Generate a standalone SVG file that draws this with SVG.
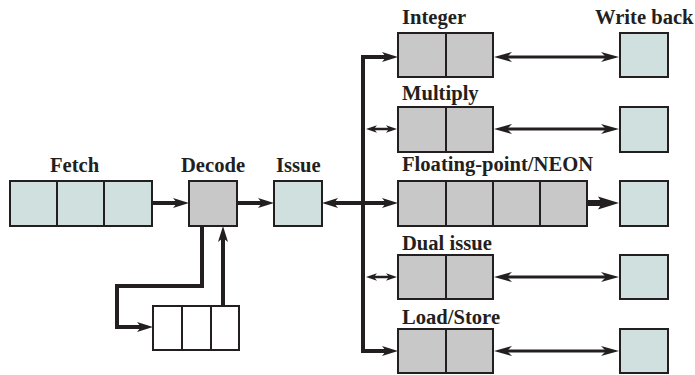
<svg xmlns="http://www.w3.org/2000/svg" width="695" height="375" viewBox="0 0 695 375">
<style>
.t{font-family:"Liberation Serif","Times New Roman",serif;font-weight:bold;font-size:20.6px;fill:#231f20}
.teal{fill:#cfe0de;stroke:#231f20;stroke-width:2}
.gray{fill:#c8c8c8;stroke:#231f20;stroke-width:2}
.white{fill:#ffffff;stroke:#231f20;stroke-width:2}
.div{stroke:#231f20;stroke-width:2}
.c{fill:none;stroke:#231f20;stroke-linejoin:miter}
</style>
<defs>
<marker id="a" viewBox="0 -6 18 12" refX="4" refY="0" markerWidth="18" markerHeight="12" markerUnits="userSpaceOnUse" orient="auto-start-reverse"><path d="M0,-5 L16,0 L0,5 L4,0 z" fill="#231f20"/></marker>
<marker id="m" viewBox="0 -6 20 12" refX="5" refY="0" markerWidth="20" markerHeight="12" markerUnits="userSpaceOnUse" orient="auto-start-reverse"><path d="M0,-5 L18,0 L0,5 L5,0 z" fill="#231f20"/></marker>
<marker id="s" viewBox="0 -5 12 10" refX="3" refY="0" markerWidth="12" markerHeight="10" markerUnits="userSpaceOnUse" orient="auto-start-reverse"><path d="M0,-3.8 L11,0 L0,3.8 L3,0 z" fill="#231f20"/></marker>
<marker id="b" viewBox="0 -7 24 14" refX="4" refY="0" markerWidth="24" markerHeight="14" markerUnits="userSpaceOnUse" orient="auto-start-reverse"><path d="M0,-6.5 L21,0 L0,6.5 L4,0 z" fill="#231f20"/></marker>
</defs>

<g id="connectors">
<path class="c" stroke-width="4" d="M152,203 H177" marker-end="url(#a)"/>
<path class="c" stroke-width="4" d="M237,203 H262" marker-end="url(#a)"/>
<path class="c" stroke-width="4" d="M334,203 H386" marker-start="url(#a)" marker-end="url(#a)"/>
<path class="c" stroke-width="4" d="M386,57 H363 V351 H386" marker-start="url(#a)" marker-end="url(#a)"/>
<path class="c" stroke-width="2.5" d="M374,129 H389" marker-start="url(#s)" marker-end="url(#s)"/>
<path class="c" stroke-width="2.5" d="M374,277 H389" marker-start="url(#s)" marker-end="url(#s)"/>
<path class="c" stroke-width="3.2" d="M507,57 H606" marker-start="url(#m)" marker-end="url(#m)"/>
<path class="c" stroke-width="3.2" d="M507,129 H606" marker-start="url(#m)" marker-end="url(#m)"/>
<path class="c" stroke-width="3.2" d="M507,277 H606" marker-start="url(#m)" marker-end="url(#m)"/>
<path class="c" stroke-width="3.2" d="M507,351 H606" marker-start="url(#m)" marker-end="url(#m)"/>
<path class="c" stroke-width="6" d="M588,203 H602" marker-end="url(#b)"/>
<path class="c" stroke-width="4" d="M202,226 V286 H117 V327 H141" marker-end="url(#a)"/>
<path class="c" stroke-width="4" d="M223,306 V238" marker-end="url(#a)"/>
</g>

<g id="fetch">
<rect class="teal" x="10" y="181" width="142" height="45"/>
<line class="div" x1="57" y1="181" x2="57" y2="226"/>
<line class="div" x1="104" y1="181" x2="104" y2="226"/>
<text class="t" x="50" y="172">Fetch</text>
</g>
<g id="decode">
<rect class="gray" x="189" y="181" width="48" height="45"/>
<text class="t" x="181" y="172">Decode</text>
</g>
<g id="issue">
<rect class="teal" x="274" y="181" width="48" height="45"/>
<text class="t" x="276" y="172">Issue</text>
</g>
<g id="queue">
<rect class="white" x="153" y="306" width="86" height="44"/>
<line class="div" x1="182" y1="306" x2="182" y2="350"/>
<line class="div" x1="211" y1="306" x2="211" y2="350"/>
</g>

<g id="integer">
<rect class="gray" x="398" y="33" width="95" height="44"/>
<line class="div" x1="446" y1="33" x2="446" y2="77"/>
<text class="t" x="402" y="24">Integer</text>
</g>
<g id="multiply">
<rect class="gray" x="398" y="107" width="95" height="45"/>
<line class="div" x1="446" y1="107" x2="446" y2="152"/>
<text class="t" x="402" y="100">Multiply</text>
</g>
<g id="fp">
<rect class="gray" x="398" y="181" width="189" height="45"/>
<line class="div" x1="446" y1="181" x2="446" y2="226"/>
<line class="div" x1="493" y1="181" x2="493" y2="226"/>
<line class="div" x1="540" y1="181" x2="540" y2="226"/>
<text class="t" x="402" y="171">Floating-point/NEON</text>
</g>
<g id="dual">
<rect class="gray" x="398" y="255" width="95" height="44"/>
<line class="div" x1="446" y1="255" x2="446" y2="299"/>
<text class="t" x="402" y="250">Dual issue</text>
</g>
<g id="loadstore">
<rect class="gray" x="398" y="329" width="95" height="44"/>
<line class="div" x1="446" y1="329" x2="446" y2="373"/>
<text class="t" x="402" y="324">Load/Store</text>
</g>

<g id="writeback">
<text class="t" x="595" y="24">Write back</text>
<rect class="teal" x="620" y="33" width="48" height="44"/>
<rect class="teal" x="620" y="107" width="48" height="45"/>
<rect class="teal" x="620" y="181" width="48" height="45"/>
<rect class="teal" x="620" y="255" width="48" height="44"/>
<rect class="teal" x="620" y="329" width="48" height="44"/>
</g>
</svg>
